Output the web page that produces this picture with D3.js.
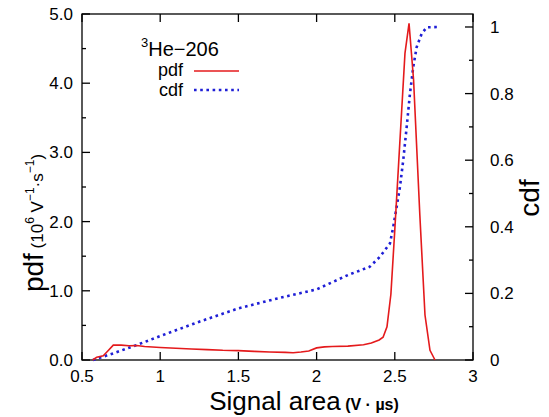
<!DOCTYPE html>
<html><head><meta charset="utf-8">
<script src="https://cdn.jsdelivr.net/npm/d3@7"></script>
<style>body{margin:0;background:#fff}svg{display:block;font-family:"Liberation Sans",Arial,sans-serif}</style>
</head><body><svg id="c" width="549" height="417"></svg>
<script>
// Data
const pdfX = [0.568,0.594,0.636,0.665,0.70,0.75,0.80,0.85,0.90,1.0,1.1,1.2,1.3,1.4,1.5,1.6,1.7,1.8,1.85,1.9,1.95,2.0,2.05,2.1,2.2,2.3,2.35,2.4,2.425,2.45,2.475,2.5,2.525,2.55,2.565,2.591,2.62,2.66,2.693,2.725,2.757];
const pdfY = [0.0,0.04,0.06,0.13,0.215,0.215,0.205,0.21,0.195,0.18,0.17,0.16,0.15,0.14,0.135,0.125,0.115,0.11,0.105,0.115,0.13,0.175,0.19,0.195,0.20,0.22,0.245,0.29,0.33,0.48,0.95,1.88,2.86,3.84,4.43,4.865,4.05,2.1,0.65,0.14,0.0];
const cdfX = [0.57,0.7,0.85,1.0,1.25,1.5,1.75,2.0,2.2,2.34,2.405,2.469,2.49,2.512,2.533,2.554,2.576,2.597,2.618,2.64,2.672,2.704,2.78];
const cdfY = [0.0,0.02,0.045,0.072,0.115,0.155,0.185,0.212,0.255,0.28,0.31,0.35,0.40,0.46,0.52,0.60,0.70,0.80,0.88,0.94,0.98,0.999,1.0];
const xTicks = [0.5,1,1.5,2,2.5,3];
const xTickLabels = ["0.5","1","1.5","2","2.5","3"];
const yTicks = [0,1,2,3,4,5];
const yTickLabels = ["0.0","1.0","2.0","3.0","4.0","5.0"];
const y2Ticks = [0,0.2,0.4,0.6,0.8,1];
const y2TickLabels = ["0","0.2","0.4","0.6","0.8","1"];

const L=82,R=473,T=14,B=360;
const svg=d3.select("#c");
const x=d3.scaleLinear().domain([0.5,3]).range([L,R]);
const y=d3.scaleLinear().domain([0,5]).range([B,T]);
const y2=d3.scaleLinear().domain([0,1.039]).range([B,T]);

svg.append("rect").attr("x",L).attr("y",T).attr("width",R-L).attr("height",B-T)
  .attr("fill","none").attr("stroke","#000").attr("stroke-width",1.3);

const tk=svg.append("g").attr("stroke","#000").attr("stroke-width",1.3);
xTicks.forEach(v=>{
  tk.append("line").attr("x1",x(v)).attr("x2",x(v)).attr("y1",B).attr("y2",B-8);
  tk.append("line").attr("x1",x(v)).attr("x2",x(v)).attr("y1",T).attr("y2",T+8);
});
d3.range(0,5.01,0.5).forEach(v=>{
  const major=Math.abs(v-Math.round(v))<1e-6;
  tk.append("line").attr("x1",L).attr("x2",L+(major?8:4)).attr("y1",y(v)).attr("y2",y(v));
});
d3.range(0,1.001,0.1).forEach((v,i)=>{
  const major=i%2===0;
  tk.append("line").attr("x1",R).attr("x2",R-(major?8:4)).attr("y1",y2(v)).attr("y2",y2(v));
});

const lab=svg.append("g").attr("font-size",17).attr("fill","#000");
xTicks.forEach((v,i)=>lab.append("text").attr("x",x(v)).attr("y",B+22).attr("text-anchor","middle").text(xTickLabels[i]));
yTicks.forEach((v,i)=>lab.append("text").attr("x",L-9).attr("y",y(v)+6).attr("text-anchor","end").text(yTickLabels[i]));
y2Ticks.forEach((v,i)=>lab.append("text").attr("x",R+17).attr("y",y2(v)+6).attr("text-anchor","start").text(y2TickLabels[i]));

const xt=svg.append("text").attr("x",304).attr("y",410).attr("text-anchor","middle");
xt.append("tspan").attr("font-size",26).text("Signal area");
xt.append("tspan").attr("font-size",16).attr("font-weight","bold").text(" (V · µs)");

const yt=svg.append("text").attr("transform","translate(43,223) rotate(-90)").attr("text-anchor","middle");
yt.append("tspan").attr("font-size",28).text("pdf");
yt.append("tspan").attr("font-size",17).text(" (10");
yt.append("tspan").attr("font-size",12).attr("dy",-9).text("6");
yt.append("tspan").attr("font-size",17).attr("dy",9).text(" V");
yt.append("tspan").attr("font-size",12).attr("dy",-9).text("−1");
yt.append("tspan").attr("font-size",17).attr("dy",9).text("·s");
yt.append("tspan").attr("font-size",12).attr("dy",-9).text("−1");
yt.append("tspan").attr("font-size",17).attr("dy",9).text(")");

svg.append("text").attr("transform","translate(539,198) rotate(-90)").attr("text-anchor","middle")
  .attr("font-size",28).text("cdf");

const linePdf=d3.line().x((d,i)=>x(pdfX[i])).y(d=>y(d));
const lineCdf=d3.line().x((d,i)=>x(cdfX[i])).y(d=>y2(d));
svg.append("path").attr("d",lineCdf(cdfY)).attr("fill","none").attr("stroke","#1f1fd6")
  .attr("stroke-width",2.6).attr("stroke-dasharray","2.6,3.6");
svg.append("path").attr("d",linePdf(pdfY)).attr("fill","none").attr("stroke","#e41a1c").attr("stroke-width",1.6);

const lg=svg.append("g").attr("font-size",18);
const t3=lg.append("text").attr("x",141).attr("y",56);
t3.append("tspan").attr("font-size",13).attr("dy",-9).text("3");
t3.append("tspan").attr("dy",9).attr("font-size",20).text("He−206");
lg.append("text").attr("x",183).attr("y",76).attr("text-anchor","end").text("pdf");
lg.append("text").attr("x",183).attr("y",96).attr("text-anchor","end").text("cdf");
lg.append("line").attr("x1",194).attr("x2",239).attr("y1",71).attr("y2",71).attr("stroke","#e41a1c").attr("stroke-width",1.6);
lg.append("line").attr("x1",194).attr("x2",239).attr("y1",90).attr("y2",90).attr("stroke","#1f1fd6").attr("stroke-width",2.6).attr("stroke-dasharray","2.6,3.6");
</script></body></html>
